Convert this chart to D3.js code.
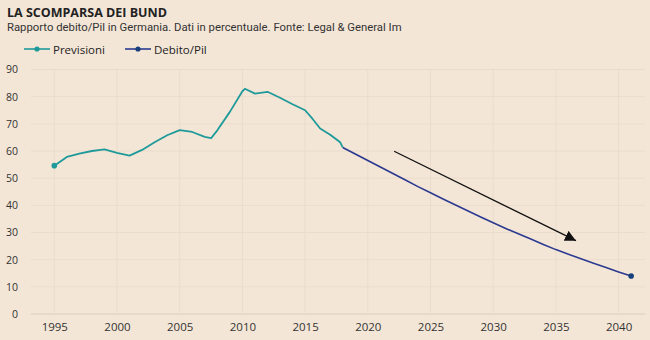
<!DOCTYPE html>
<html>
<head>
<meta charset="utf-8">
<script src="https://cdn.jsdelivr.net/npm/d3@7"></script>
<style>
  html, body { margin: 0; padding: 0; background: #f4e6d7; }
  svg { display: block; font-family: "Open Sans", "Noto Sans", sans-serif; }
</style>
</head>
<body>
<div id="chart"></div>
<script>
// storico (teal) e proiezione (blu)
var histYears = [1995, 1996, 1997, 1998, 1999, 2000, 2001, 2002, 2003, 2004, 2005, 2006, 2007, 2007.5, 2008, 2009, 2010, 2010.2, 2011, 2012, 2013, 2014, 2015, 2015.6, 2016.2, 2017, 2017.8, 2018];
var histValues = [54.6, 57.8, 59.0, 60.0, 60.6, 59.3, 58.3, 60.4, 63.2, 65.8, 67.7, 67.0, 65.2, 64.7, 67.6, 74.4, 82.0, 82.9, 81.1, 81.8, 79.6, 77.2, 75.0, 71.8, 68.3, 66.0, 63.2, 61.3];

var projYears = [2018, 2019, 2020, 2021, 2022, 2023, 2024, 2025, 2026, 2027, 2028, 2029, 2030, 2031, 2032, 2033, 2034, 2035, 2036, 2037, 2038, 2039, 2040, 2041];
var projValues = [61.3, 58.9, 56.5, 54.1, 51.7, 49.3, 46.9, 44.6, 42.3, 40.1, 37.9, 35.7, 33.6, 31.5, 29.5, 27.6, 25.6, 23.7, 22.0, 20.3, 18.7, 17.1, 15.5, 14.0];

var yTicks = [0, 10, 20, 30, 40, 50, 60, 70, 80, 90];
var xTicks = [1995, 2000, 2005, 2010, 2015, 2020, 2025, 2030, 2035, 2040];

// freccia di tendenza (anno, valore)
var arrowFrom = [2022.1, 59.9];
var arrowTo = [2036.6, 27.0];

var width = 650, height = 340;
var teal = "#1f9a9a", navy = "#2b3a90", navyDot = "#173f7c";

var svg = d3.select("#chart").append("svg")
  .attr("width", width)
  .attr("height", height);

var x = d3.scaleLinear().domain([1995, 2040]).range([54.3, 618.6]);
var y = d3.scaleLinear().domain([0, 90]).range([314, 69.5]);

// titolo
svg.append("text").attr("x", 7).attr("y", 17)
  .attr("font-size", 12.5).attr("font-weight", 700).attr("fill", "#222")
  .text("LA SCOMPARSA DEI BUND");
svg.append("text").attr("x", 7).attr("y", 31)
  .attr("font-size", 11.3).attr("fill", "#333").attr("font-family", "Roboto, sans-serif")
  .text("Rapporto debito/Pil in Germania. Dati in percentuale. Fonte: Legal & General Im");

// legenda
var legend = [{label: "Previsioni", color: teal, dot: teal, x: 24}, {label: "Debito/Pil", color: navy, dot: navyDot, x: 125}];
var lg = svg.selectAll(".legend").data(legend).enter().append("g")
  .attr("transform", function(d){ return "translate(" + d.x + ",49)"; });
lg.append("line").attr("x1", 0).attr("x2", 26).attr("y1", 0).attr("y2", 0)
  .attr("stroke", function(d){ return d.color; }).attr("stroke-width", 1.6);
lg.append("circle").attr("cx", 13).attr("r", 2.6).attr("fill", function(d){ return d.dot; });
lg.append("text").attr("x", 29).attr("y", 4.5).attr("font-size", 11.5).attr("fill", "#222")
  .text(function(d){ return d.label; });

// griglia
svg.append("g").selectAll("line").data(yTicks).enter().append("line")
  .attr("x1", 31).attr("x2", 645)
  .attr("y1", function(d){ return y(d); }).attr("y2", function(d){ return y(d); })
  .attr("stroke", function(d){ return d === 0 ? "#dcccba" : "#eadccb"; })
  .attr("stroke-width", 1);
svg.append("g").selectAll("line").data(xTicks).enter().append("line")
  .attr("x1", function(d){ return x(d); }).attr("x2", function(d){ return x(d); })
  .attr("y1", y(90)).attr("y2", y(0))
  .attr("stroke", "#eadccb").attr("stroke-width", 1);

// assi
var yAxis = svg.append("g").attr("transform", "translate(18,0)")
  .call(d3.axisLeft(y).tickValues(yTicks).tickSize(0).tickPadding(0));
var xAxis = svg.append("g").attr("transform", "translate(0," + y(0) + ")")
  .call(d3.axisBottom(x).tickValues(xTicks).tickFormat(d3.format("d")).tickSize(0).tickPadding(9));
[yAxis, xAxis].forEach(function(a){
  a.select(".domain").remove();
  a.selectAll("text").attr("fill", "#333")
    .attr("font-family", "\"Open Sans\", sans-serif");
});
yAxis.selectAll("text").attr("font-size", 10.5);
xAxis.selectAll("text").attr("font-size", 11.5);

// linee
var line = d3.line().x(function(d){ return x(d[0]); }).y(function(d){ return y(d[1]); });
var hist = d3.zip(histYears, histValues);
var proj = d3.zip(projYears, projValues);

svg.append("path").datum(proj).attr("d", line)
  .attr("fill", "none").attr("stroke", navy).attr("stroke-width", 1.6);
svg.append("path").datum(hist).attr("d", line)
  .attr("fill", "none").attr("stroke", teal).attr("stroke-width", 1.8)
  .attr("stroke-linejoin", "round");

svg.append("circle").attr("cx", x(hist[0][0])).attr("cy", y(hist[0][1])).attr("r", 2.8).attr("fill", teal);
var last = proj[proj.length - 1];
svg.append("circle").attr("cx", x(last[0])).attr("cy", y(last[1])).attr("r", 2.8).attr("fill", navyDot);

// freccia
svg.append("defs").append("marker")
  .attr("id", "arrowhead").attr("viewBox", "0 0 10 10")
  .attr("refX", 10).attr("refY", 5)
  .attr("markerWidth", 11).attr("markerHeight", 11)
  .attr("markerUnits", "userSpaceOnUse")
  .attr("orient", "auto")
  .append("path").attr("d", "M0,0 L10,5 L0,10 Z").attr("fill", "#111");
svg.append("line")
  .attr("x1", x(arrowFrom[0])).attr("y1", y(arrowFrom[1]))
  .attr("x2", x(arrowTo[0])).attr("y2", y(arrowTo[1]))
  .attr("stroke", "#111").attr("stroke-width", 1.3)
  .attr("marker-end", "url(#arrowhead)");
</script>
</body>
</html>
